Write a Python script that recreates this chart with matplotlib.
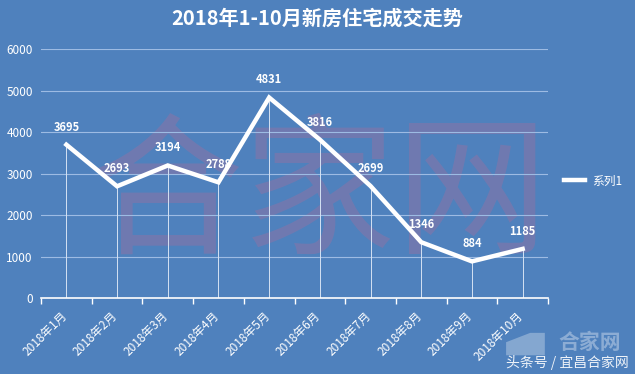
import matplotlib
matplotlib.use("Agg")
import matplotlib.pyplot as plt
from matplotlib.transforms import offset_copy
from matplotlib.patches import Polygon

plt.rcParams['font.family'] = ['Noto Sans CJK SC', 'DejaVu Sans']

# 数据
meses = ['2018年1月', '2018年2月', '2018年3月', '2018年4月', '2018年5月',
         '2018年6月', '2018年7月', '2018年8月', '2018年9月', '2018年10月']
valores = [3695, 2693, 3194, 2788, 4831, 3816, 2699, 1346, 884, 1185]
yticks = [0, 1000, 2000, 3000, 4000, 5000, 6000]

fondo = '#4F81BD'

fig = plt.figure(figsize=(6.35, 3.74), dpi=100, facecolor=fondo)
ax = fig.add_axes([0.0646, 0.203, 0.7984, 0.666], facecolor=fondo)

x = list(range(len(meses)))

# marca de agua grande
ax.text(5.0, 2400, '合家网', fontsize=110, color='#d2648c', alpha=0.25,
        ha='center', va='center', zorder=0)

# cuadrícula
for v in yticks[1:]:
    ax.axhline(v, color='#9dbbe3', linewidth=0.8, zorder=1)

# líneas verticales de cada punto
ax.vlines(x, 0, valores, color='#d5e2f3', linewidth=0.7, zorder=2)

ax.plot(x, valores, color='white', linewidth=3.2, solid_joinstyle='miter',
        label='系列1', zorder=3)

for xi, v in zip(x, valores):
    ax.annotate(str(v), (xi, v), xytext=(0, 8), textcoords='offset points',
                ha='center', va='bottom', color='white', fontsize=8,
                fontweight='bold', zorder=4)

ax.set_xlim(-0.5, len(meses) - 0.5)
ax.set_ylim(0, 6000)
ax.set_yticks(yticks)
ax.set_yticklabels([str(v) for v in yticks], color='white', fontsize=8.5)
ax.tick_params(axis='y', length=0, pad=6)

ax.set_xticks([i - 0.5 for i in range(len(meses) + 1)], minor=False)
ax.set_xticklabels([])
ax.tick_params(axis='x', direction='out', length=4, color='white', width=1)
ax.set_xticks(x, minor=True)
ax.set_xticklabels(meses, minor=True, rotation=45, ha='right',
                   rotation_mode='anchor', color='white', fontsize=8.5)
ax.tick_params(axis='x', which='minor', length=0, pad=6)
for lbl in ax.get_xticklabels(minor=True):
    lbl.set_transform(offset_copy(lbl.get_transform(), fig=fig,
                                  x=-6, y=-3, units='dots'))

for s in ['top', 'right', 'left']:
    ax.spines[s].set_visible(False)
ax.spines['bottom'].set_color('white')
ax.spines['bottom'].set_linewidth(1.2)

fig.text(0.5, 0.952, '2018年1-10月新房住宅成交走势', ha='center', va='center',
         color='white', fontsize=14.5, fontweight='bold')

leg = ax.legend(loc='center left', bbox_to_anchor=(1.01, 0.47), frameon=False,
                fontsize=8.5, handlelength=1.8, handletextpad=0.6)
for t in leg.get_texts():
    t.set_color('white')

# marca de agua inferior
casa = Polygon([[0.797, 0.05], [0.797, 0.085], [0.835, 0.11], [0.858, 0.11],
                [0.858, 0.05]], closed=True, transform=fig.transFigure,
               facecolor='white', alpha=0.3, edgecolor='none')
fig.patches.append(casa)
fig.text(0.929, 0.083, '合家网', ha='center', va='center', color='white',
         alpha=0.35, fontsize=15, fontweight='bold')
fig.text(0.99, 0.032, '头条号 / 宜昌合家网', ha='right', va='center',
         color='white', fontsize=10, alpha=0.9)

fig.savefig('out.png', dpi=100, facecolor=fondo)
